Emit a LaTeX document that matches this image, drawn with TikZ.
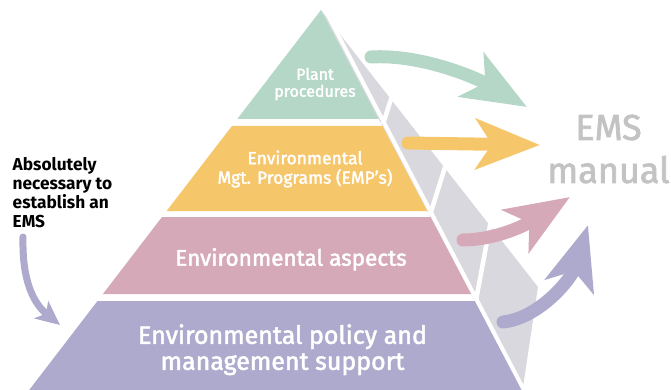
\documentclass[tikz,border=0pt]{standalone}
\usepackage{fontspec}
\setmainfont{Fira Sans}
\newfontfamily\labelfont{Fira Sans}[FakeBold=2.0]
\usetikzlibrary{arrows.meta}

\definecolor{pgreen}{HTML}{B5D7C7}
\definecolor{porange}{HTML}{F6C66B}
\definecolor{ppink}{HTML}{D5A9B7}
\definecolor{ppurple}{HTML}{AEAACD}
\definecolor{pside}{HTML}{D9D8DF}
\definecolor{pemstext}{HTML}{C3C3C3}

\tikzset{
  sideface/.style={fill=pside, draw=none},
  gapline/.style={draw=white, line width=4.5pt},
  bandlabel/.style={text=white, align=center, inner sep=0pt},
  fatarrow/.style={line width=13pt, line cap=round,
    -{Stealth[length=64pt, width=50pt, inset=16pt]}},
  thinarrow/.style={line width=7pt, line cap=round,
    -{Stealth[length=24pt, width=22pt, inset=6pt]}}
}

\begin{document}
\begin{tikzpicture}[x=1pt, y=-1pt]
  \useasboundingbox (0,0) rectangle (671,390);

  % corners of the pyramid
  \coordinate (apex) at (321,10);
  \coordinate (back) at (538,287);
  \coordinate (sidefoot) at (523,387);
  \coordinate (frontfoot) at (522,390);

  % side face
  \fill[sideface] (apex) -- (back) -- (sidefoot) -- (frontfoot) -- cycle;

  % front layers, bottom to top
  \fill[ppurple] (97.5,301) -- (474.9,301) -- (522,390) -- (29.2,390) -- cycle;
  \fill[ppink]   (162,217) -- (430.5,217) -- (471.2,294) -- (102.9,294) -- cycle;
  \fill[porange] (231.9,126) -- (382.4,126) -- (427.3,211) -- (166.6,211) -- cycle;
  \fill[pgreen]  (apex) -- (378.7,119) -- (237.3,119) -- cycle;

  % white edge between front and side, and the layer joints on the side
  \draw[gapline, line width=4pt] (324,8) -- (525,392);
  \draw[gapline] (383,124) -- (393,93);
  \draw[gapline] (430,215) -- (446,164);
  \draw[gapline] (476,300) -- (491,220);

  % layer labels
  \node[bandlabel, font=\labelfont\fontsize{16}{17}\selectfont] (plant) at (315,84)
    {Plant\\procedures};
  \node[bandlabel, font=\labelfont\fontsize{17.5}{19.5}\selectfont] (emp) at (305,169)
    {Environmental\\Mgt. Programs (EMP’s)};
  \node[bandlabel, font=\labelfont\fontsize{22.5}{26}\selectfont, anchor=base] (aspects)
    at (291,265.7) {Environmental aspects};
  \node[bandlabel, font=\labelfont\fontsize{25}{26}\selectfont] (policy) at (282.5,349.7)
    {Environmental policy and\\management support};

  % target label
  \node[text=pemstext, align=center, inner sep=0pt,
        font=\labelfont\fontsize{36}{43}\selectfont] (manual) at (608.5,149) {EMS\\manual};

  % side note
  \node[anchor=north west, align=left, inner sep=0pt,
        font=\fontsize{17.3}{19.2}\selectfont\bfseries] (note) at (12.5,157)
    {Absolutely\\necessary to\\establish an\\EMS};

  % arrow end points
  \coordinate (gtail) at (371,57);   \coordinate (gtip) at (527,107);
  \coordinate (otail) at (408,143);  \coordinate (otip) at (540,145);
  \coordinate (ptail) at (463,240);  \coordinate (ptip) at (570,197);
  \coordinate (vtail) at (503,322);  \coordinate (vtip) at (588,225);
  \coordinate (ntail) at (23,237);   \coordinate (ntip) at (60,325);

  % arrows into the manual
  \draw[fatarrow, pgreen] (gtail) .. controls (420,54) and (475,77) .. (gtip);
  \draw[fatarrow, porange] (otail) -- (otip);
  \draw[fatarrow, ppink] (ptail) .. controls (490,240) and (519,229) .. (ptip);
  \draw[fatarrow, ppurple] (vtail) .. controls (540,318) and (572,278) .. (vtip);

  % arrow from the note to the base layer
  \draw[thinarrow, ppurple] (ntail) .. controls (22,280) and (33,303) .. (ntip);
\end{tikzpicture}
\end{document}
